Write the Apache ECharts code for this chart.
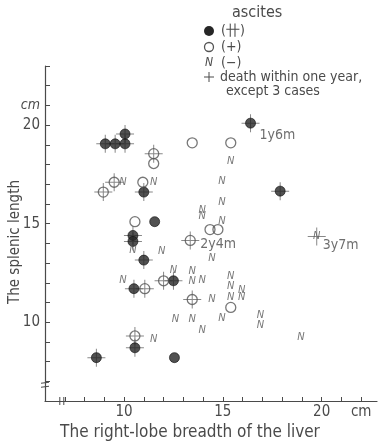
<!DOCTYPE html>
<html><head><meta charset="utf-8">
<script src="https://cdn.jsdelivr.net/npm/echarts@6/dist/echarts.min.js"></script>
<style>html,body{margin:0;padding:0;background:#fff}#c{width:379px;height:446px}</style>
</head><body><div id="c"></div>
<script>
// ascites (卄): filled circles
const filledDeath = [[9.05,19.05],[9.55,19.05],[10.05,19.05],[10.05,19.55],[11.0,16.6],[16.4,20.1],[17.9,16.65],[10.45,14.4],[10.45,14.1],[11.0,13.15],[12.5,12.1],[10.5,11.7],[10.55,8.7],[8.6,8.2]];
const filledAlive = [[11.55,15.1],[12.55,8.2]];
// ascites (+): open circles
const openDeath = [[11.5,18.55],[9.5,17.1],[8.95,16.6],[13.35,14.15],[12.0,12.1],[11.05,11.7],[13.45,11.15],[10.55,9.3]];
const openAlive = [[11.5,18.05],[10.95,17.1],[10.55,15.1],[13.45,19.1],[15.4,19.1],[14.35,14.7],[14.75,14.7],[15.4,10.75]];
// ascites (−): N
const nDeath = [[19.75,14.35]];
const nAlive = [[9.95,17.1],[11.5,17.1],[15.4,18.15],[14.95,17.15],[14.95,16.1],[13.95,15.7],[13.95,15.4],[14.95,15.15],[10.45,13.65],[11.9,13.6],[14.45,13.25],[12.5,12.65],[13.45,12.6],[13.45,12.1],[13.95,12.15],[9.95,12.15],[15.4,12.35],[15.4,11.85],[15.4,11.25],[15.95,11.65],[15.95,11.25],[14.45,11.15],[12.6,10.15],[13.45,10.15],[13.95,9.6],[14.95,10.2],[16.9,10.35],[16.9,9.85],[18.95,9.25],[11.5,9.15]];
// survival notes
const notes = [[16.4,20.1,'1y6m'],[13.35,14.15,'2y4m'],[19.75,14.35,'3y7m']];
const xTickLabels = {10:'10',15:'15',20:'20',22:'cm'};
const yTickLabels = {10:'10',15:'15',20:'20',21:'cm'};

const FONT = '"Liberation Sans Narrow","DejaVu Sans Condensed","Liberation Sans",sans-serif';
const INK = '#4a4a4a';
const noteOffsets = {'1y6m':[8,12],'2y4m':[9,4],'3y7m':[5,9]};
const crossPath = 'path://M0 8.5h18v1H0z M8.5 0h1v18h-1z';

const chart = echarts.init(document.getElementById('c'), null, {renderer:'canvas'});
const option = {
  animation:false,
  backgroundColor:'#fff',
  grid:{left:45,right:2,top:66,bottom:45,containLabel:false},
  xAxis:{type:'value',min:6,max:22.8,interval:1,
    axisLine:{show:true,onZero:false,lineStyle:{color:INK,width:1.2}},
    axisTick:{show:true,inside:true,length:4,lineStyle:{color:INK}},
    splitLine:{show:false},
    axisLabel:{margin:4,color:INK,fontSize:15,fontFamily:FONT,showMaxLabel:false,
      formatter:v=>xTickLabels[v]||''}},
  yAxis:{type:'value',min:6,max:23,interval:1,
    axisLine:{show:true,onZero:false,lineStyle:{color:INK,width:1.2}},
    axisTick:{show:true,inside:true,length:5,lineStyle:{color:INK}},
    splitLine:{show:false},
    axisLabel:{margin:5,color:INK,fontSize:15,fontFamily:FONT,
      formatter:v=>{const t=yTickLabels[v]; if(!t) return ''; return t==='cm'?'{i|cm}':t;},
      rich:{i:{fontStyle:'italic',fontSize:14,fontFamily:FONT,color:INK}}}},
  series:[
    {type:'scatter',name:'death',z:2,symbol:crossPath,symbolSize:18,
      itemStyle:{color:'#6a6a6a'},data:filledDeath.concat(openDeath,nDeath)},
    {type:'scatter',name:'filled',z:3,symbol:'circle',symbolSize:10,
      itemStyle:{color:'#262626',borderColor:'#111',borderWidth:0.8},data:filledDeath.concat(filledAlive)},
    {type:'scatter',name:'open',z:3,symbol:'circle',symbolSize:10,
      itemStyle:{color:'rgba(255,255,255,0)',borderColor:'#555',borderWidth:1.3},data:openDeath.concat(openAlive)},
    {type:'scatter',name:'N',z:4,symbol:'circle',symbolSize:2,
      itemStyle:{color:'rgba(0,0,0,0)'},
      label:{show:true,position:'inside',formatter:'N',fontStyle:'italic',fontSize:11,fontFamily:FONT,color:'#555'},
      data:nDeath.concat(nAlive)},
    {type:'scatter',name:'notes',z:4,symbol:'circle',symbolSize:2,itemStyle:{color:'rgba(0,0,0,0)'},
      data:notes.map(n=>({value:[n[0],n[1]],name:n[2],
        label:{show:true,position:'right',distance:0,offset:noteOffsets[n[2]],formatter:n[2],
          fontSize:14,fontFamily:FONT,color:INK}}))}
  ]
};
chart.setOption(option);

// axis-break marks & texts
const bx = chart.convertToPixel({xAxisIndex:0},6.85);
const by = chart.convertToPixel({yAxisIndex:0},6.8);
const ax = chart.convertToPixel({xAxisIndex:0},6);
const ay = chart.convertToPixel({yAxisIndex:0},6);
const ln = (x1,y1,x2,y2)=>({type:'line',shape:{x1,y1,x2,y2},style:{stroke:INK,lineWidth:1}});
const txt = (x,y,t,extra)=>Object.assign({type:'text',x,y,style:Object.assign({text:t,fill:INK,fontSize:14,fontFamily:FONT,verticalAlign:'middle'},extra||{})});
chart.setOption({graphic:[
  // y-axis break
  {type:'rect',shape:{x:ax-4,y:by-2,width:8,height:4},style:{fill:'#fff'}},
  ln(ax-4,by-2,ax+4,by-3), ln(ax-4,by+2,ax+4,by+1),
  // x-axis break
  {type:'rect',shape:{x:bx-2,y:ay-4,width:4,height:8},style:{fill:'#fff'}},
  ln(bx-2,ay-4,bx-2,ay+4), ln(bx+2,ay-4,bx+2,ay+4),
  // axis titles
  txt(190,433,'The right-lobe breadth of the liver',{align:'center',fontSize:17}),
  {type:'text',x:15,y:242,rotation:Math.PI/2,style:{text:'The splenic length',fill:INK,fontSize:15,fontFamily:FONT,align:'center',verticalAlign:'middle'}},
  // legend
  txt(232,13,'ascites',{fontSize:16}),
  {type:'circle',shape:{cx:209,cy:31,r:5},style:{fill:'#262626'}},
  txt(221,31,'(卄)'),
  {type:'circle',shape:{cx:209,cy:47,r:4.5},style:{fill:'#fff',stroke:'#555',lineWidth:1.3}},
  txt(221,47,'(+)'),
  txt(209,63,'N',{align:'center',fontStyle:'italic',fontSize:12}),
  txt(221,63,'(−)'),
  ln(204,77,214,77), ln(209,72,209,82),
  txt(220,77,'death within one year,'),
  txt(226,91,'except 3 cases')
]});
</script></body></html>
